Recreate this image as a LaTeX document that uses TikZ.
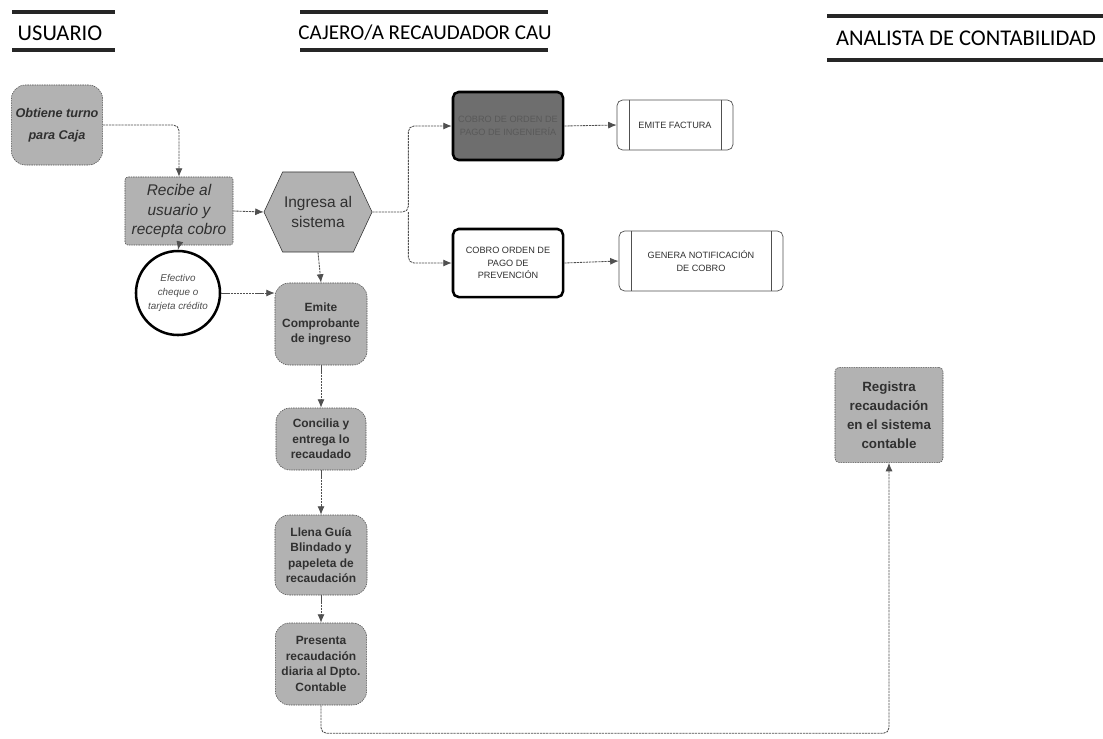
\documentclass[tikz,border=0pt]{standalone}
\usepackage{fontspec}
\setmainfont{Carlito}
\newfontfamily\arialfont{Liberation Sans}
\usetikzlibrary{shapes.symbols,arrows.meta}

\definecolor{boxgray}{HTML}{B2B2B2}
\definecolor{darkbox}{HTML}{6E6E6E}
\definecolor{linegray}{HTML}{505050}
\definecolor{textgray}{HTML}{303030}

\begin{document}
\begin{tikzpicture}[x=0.025cm, y=-0.025cm, >={Latex[length=6pt,width=5pt]},
    every node/.style={font=\arialfont, text=textgray},
    lane/.style={font=\fontsize{16}{19}\selectfont, text=black},
    laneline/.style={line width=2.6pt, draw=black!85},
    graybox/.style={draw=linegray, dash pattern=on 1pt off 0.7pt, fill=boxgray, align=center, inner sep=1pt},
    roundbox/.style={graybox, rounded corners=10pt, font=\arialfont\bfseries\fontsize{8.5}{11}\selectfont},
    ordenbox/.style={draw=black, line width=1.8pt, rounded corners=4pt, align=center,
        minimum width=2.75cm, minimum height=1.7cm, font=\arialfont\fontsize{6.5}{9}\selectfont},
    procbox/.style={draw=linegray, line width=0.5pt, rounded corners=4pt, align=center,
        font=\arialfont\fontsize{6.5}{9}\selectfont,
        path picture={
            \draw[linegray] ([xshift=0.3cm]path picture bounding box.north west) -- ([xshift=0.3cm]path picture bounding box.south west);
            \draw[linegray] ([xshift=-0.3cm]path picture bounding box.north east) -- ([xshift=-0.3cm]path picture bounding box.south east);}},
    flow/.style={->, draw=linegray, line width=0.6pt, dash pattern=on 1.6pt off 0.6pt, rounded corners=4pt}]

    \useasboundingbox (0,0) rectangle (1103,738);

    % lanes
    \node[lane] (hdrUsuario) at (60,33) {USUARIO};
    \node[lane, font=\fontsize{15}{18}\selectfont] (hdrCajero) at (425,33) {CAJERO/A RECAUDADOR CAU};
    \node[lane] (hdrAnalista) at (966,38) {ANALISTA DE CONTABILIDAD};
    \draw[laneline] (12,12) -- (115,12) (12,50) -- (115,50);
    \draw[laneline] (300,12) -- (548,12) (300,50) -- (548,50);
    \draw[laneline] (827,16) -- (1103,16) (827,60) -- (1103,60);

    % usuario
    \node[graybox, rounded corners=10pt, minimum width=2.28cm, minimum height=2cm,
        font=\arialfont\bfseries\itshape\fontsize{9}{16}\selectfont] (obtiene) at (57,125) {Obtiene turno\\para Caja};

    % cajero
    \node[graybox, rounded corners=2pt, minimum width=2.7cm, minimum height=1.7cm,
        font=\arialfont\itshape\fontsize{11}{14}\selectfont] (recibe) at (179,211) {Recibe al\\usuario y\\recepta cobro};
    \node[graybox, shape=signal, signal to=east and west, signal pointer angle=130,
        minimum width=2.3cm, minimum height=2cm, draw=black!80, solid,
        font=\arialfont\fontsize{11}{14}\selectfont] (ingresa) at (318,212) {Ingresa al\\sistema};
    \node[draw=black, line width=1.8pt, circle, minimum size=2.1cm, align=center, inner sep=0pt,
        font=\arialfont\itshape\fontsize{7}{10}\selectfont, text=black!70] (efectivo) at (178,293) {Efectivo\\cheque o\\tarjeta crédito};
    \node[roundbox, minimum width=2.3cm, minimum height=2.05cm] (emite) at (321,324) {Emite\\Comprobante\\de ingreso};
    \node[roundbox, minimum width=2.25cm, minimum height=1.55cm] (concilia) at (321,439) {Concilia y\\entrega lo\\recaudado};
    \node[roundbox, minimum width=2.3cm, minimum height=2cm] (llena) at (321,555) {Llena Guía\\Blindado y\\papeleta de\\recaudación};
    \node[roundbox, minimum width=2.28cm, minimum height=2.05cm] (presenta) at (321,664) {Presenta\\recaudación\\diaria al Dpto.\\Contable};

    \node[ordenbox, fill=darkbox, text=black!65] (cobroIng) at (508,126) {COBRO DE ORDEN DE\\PAGO DE INGENIERÍA};
    \node[ordenbox, fill=white] (cobroPrev) at (508,263) {COBRO ORDEN DE\\PAGO DE\\PREVENCIÓN};
    \node[procbox, minimum width=2.9cm, minimum height=1.25cm] (factura) at (675,125) {EMITE FACTURA};
    \node[procbox, minimum width=4.1cm, minimum height=1.5cm] (notifica) at (701,261) {GENERA NOTIFICACIÓN\\DE COBRO};

    % analista
    \node[graybox, rounded corners=3pt, minimum width=2.7cm, minimum height=2.38cm,
        font=\arialfont\bfseries\fontsize{9.5}{13.5}\selectfont] (registra) at (889,415) {Registra\\recaudación\\en el sistema\\contable};

    % connectors
    \draw[flow] (obtiene.east) -| (recibe.north);
    \draw[flow] (recibe.east) -- (ingresa.west);
    \draw[flow] (recibe.south) -- (efectivo.north);
    \draw[flow] (efectivo.east) -- (emite.west |- efectivo.east);
    \draw[flow] (ingresa.south) -- (emite.north);
    \draw[flow] (ingresa.east) -- ++(36,0) coordinate (split) |- (cobroIng.west);
    \draw[flow] (split) |- (cobroPrev.west);
    \draw[flow] (cobroIng.east) -- (factura.west);
    \draw[flow] (cobroPrev.east) -- (notifica.west);
    \draw[flow] (emite.south) -- (concilia.north);
    \draw[flow] (concilia.south) -- (llena.north);
    \draw[flow] (llena.south) -- (presenta.north);
    \draw[flow] (presenta.south) -- ++(0,28) -| (registra.south);
\end{tikzpicture}
\end{document}
